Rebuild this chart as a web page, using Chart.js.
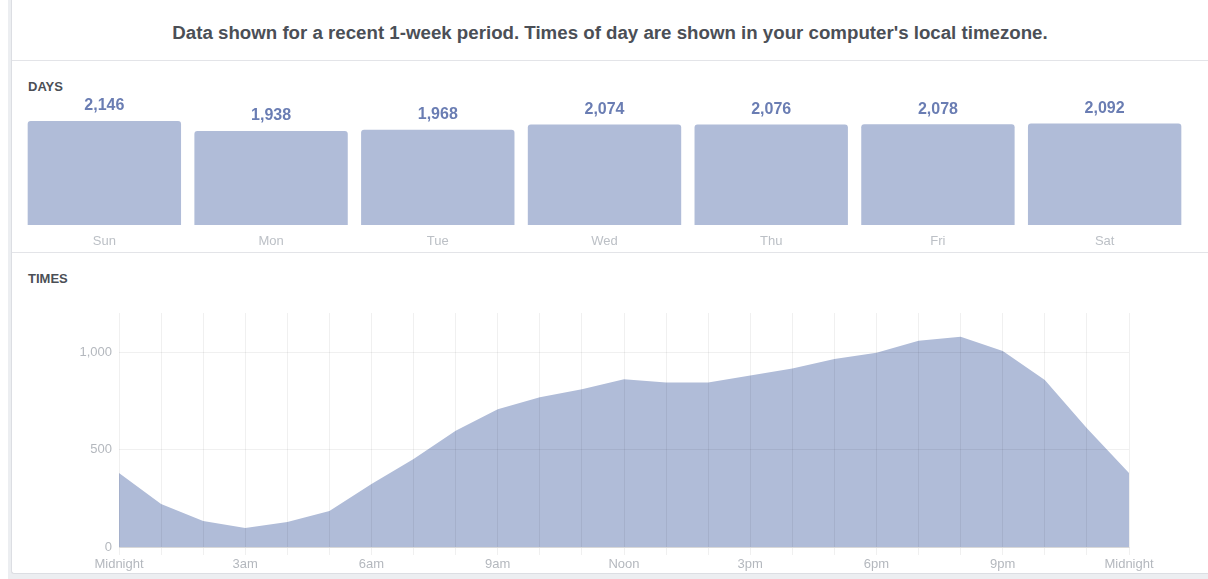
<!DOCTYPE html>
<html>
<head>
<meta charset="utf-8">
<script src="https://cdn.jsdelivr.net/npm/chart.js@4"></script>
<style>
  body { margin: 0; width: 1208px; height: 579px; background: #fff; position: relative; overflow: hidden; font-family: "Liberation Sans", Arial, sans-serif; }
  .outer { position: absolute; left: 8px; top: 0; width: 1200px; height: 579px; background: #eceef1; }
  .card { position: absolute; left: 11px; top: 0; width: 1197px; height: 573px; background: #fff; border-left: 1px solid #dcdee3; border-bottom: 1px solid #dcdee3; border-bottom-left-radius: 3px; }
  .title { position: absolute; left: 12px; top: 22px; width: 1196px; text-align: center; font-weight: bold; font-size: 18.7px; color: #4b4f56; }
  .sep { position: absolute; left: 12px; width: 1196px; height: 1px; background: #e3e4e8; }
  .section { position: absolute; left: 28px; font-weight: bold; font-size: 13px; color: #4b4f56; }
  canvas { position: absolute; left: 0; }
</style>
</head>
<body>
<div class="outer"></div>
<div class="card"></div>
<div class="title">Data shown for a recent 1-week period. Times of day are shown in your computer's local timezone.</div>
<div class="sep" style="top:60px"></div>
<div class="section" style="top:79px">DAYS</div>
<div class="sep" style="top:252px"></div>
<div class="section" style="top:271px">TIMES</div>
<canvas id="daysChart" width="1208" height="192" style="top:60px"></canvas>
<canvas id="timesChart" width="1208" height="322" style="top:252px"></canvas>
<script>
const days = ["Sun", "Mon", "Tue", "Wed", "Thu", "Fri", "Sat"]
const dayValues = [2146, 1938, 1968, 2074, 2076, 2078, 2092]

const hours = ["Midnight", "1am", "2am", "3am", "4am", "5am", "6am", "7am", "8am", "9am", "10am", "11am",
  "Noon", "1pm", "2pm", "3pm", "4pm", "5pm", "6pm", "7pm", "8pm", "9pm", "10pm", "11pm", "Midnight"]
const hourValues = [379, 220, 133, 97, 128, 185, 323, 451, 596, 706, 768, 809,
  860, 843, 843, 880, 915, 964, 996, 1058, 1078, 1005, 856, 609, 379]
const yTicks = [0, 500, 1000]

const fontFamily = '"Liberation Sans", Arial, sans-serif'
const barColor = "#b0bcd8"
const fmt = (v) => v.toLocaleString("en-US")

document.addEventListener("DOMContentLoaded", () => {
  drawDaysChart()
  drawTimesChart()
})

// numbers above each bar
const valueLabels = {
  id: "valueLabels",
  afterDatasetsDraw(chart) {
    const ctx = chart.ctx
    const meta = chart.getDatasetMeta(0)
    ctx.save()
    ctx.font = "bold 16px " + fontFamily
    ctx.fillStyle = "#6a7db3"
    ctx.textAlign = "center"
    ctx.textBaseline = "middle"
    meta.data.forEach((bar, i) => {
      ctx.fillText(fmt(chart.data.datasets[0].data[i]), bar.x, bar.y - 15)
    })
    ctx.restore()
  },
}

function drawDaysChart() {
  const ctx = document.getElementById("daysChart")
  new Chart(ctx, {
    type: "bar",
    data: {
      labels: days,
      datasets: [
        {
          data: dayValues,
          backgroundColor: barColor,
          borderRadius: 3,
          barPercentage: 0.92,
          categoryPercentage: 1,
        },
      ],
    },
    options: {
      responsive: false,
      animation: false,
      events: [],
      layout: { padding: { left: 21, right: 20, top: 61, bottom: 0 } },
      plugins: { legend: { display: false }, tooltip: { enabled: false } },
      scales: {
        y: { display: false, min: 0, max: Math.max(...dayValues) },
        x: {
          grid: { display: false, drawTicks: false },
          border: { display: false },
          ticks: { color: "#bcc0c6", font: { family: fontFamily, size: 13 }, padding: 9 },
          afterFit: (s) => { s.height = 27 },
        },
      },
    },
    plugins: [valueLabels],
  })
}

function drawTimesChart() {
  const ctx = document.getElementById("timesChart")
  new Chart(ctx, {
    type: "line",
    data: {
      labels: hours,
      datasets: [
        {
          data: hourValues,
          fill: "origin",
          backgroundColor: barColor,
          borderWidth: 0,
          pointRadius: 0,
          tension: 0,
        },
      ],
    },
    options: {
      responsive: false,
      animation: false,
      events: [],
      layout: { padding: { left: 0, right: 79, top: 61, bottom: 0 } },
      plugins: { legend: { display: false }, tooltip: { enabled: false } },
      scales: {
        x: {
          offset: false,
          grid: { color: "rgba(0,0,0,0.06)", z: 1, tickLength: 8 },
          border: { color: "rgba(0,0,0,0.1)", z: 1 },
          ticks: {
            autoSkip: false,
            maxRotation: 0,
            padding: 2,
            color: "#b4b8be",
            font: { family: fontFamily, size: 13 },
            callback: (v, i) => (i % 3 === 0 ? hours[i] : ""),
          },
          afterFit: (s) => { s.height = 27 },
        },
        y: {
          min: 0,
          max: 1200,
          grid: { color: "rgba(0,0,0,0.06)", z: 1, drawTicks: false },
          border: { display: false },
          ticks: {
            padding: 7,
            color: "#b4b8be",
            font: { family: fontFamily, size: 13 },
            callback: (v) => fmt(v),
          },
          afterBuildTicks: (s) => { s.ticks = yTicks.map((v) => ({ value: v })) },
          afterFit: (s) => { s.width = 119 },
        },
      },
    },
  })
}
</script>
</body>
</html>
